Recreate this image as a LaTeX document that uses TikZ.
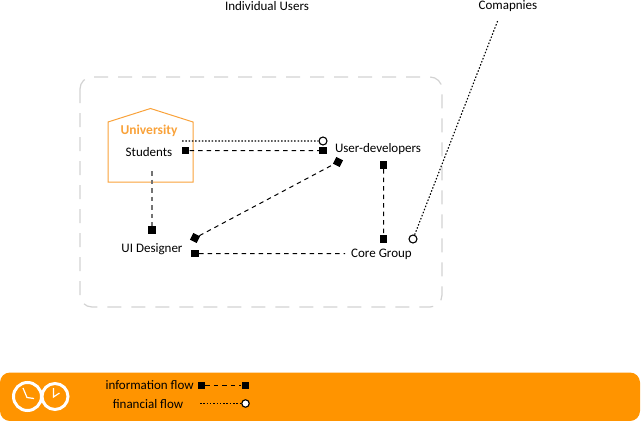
\documentclass[tikz,border=0pt]{standalone}
\usepackage{fontspec}
\setmainfont{Carlito}
\usepackage{tikz}
\usetikzlibrary{arrows.meta, positioning}

\definecolor{legendorange}{HTML}{FF9400}
\definecolor{unicolor}{HTML}{F9A23A}

\begin{document}
\begin{tikzpicture}[x=1pt, y=-1pt, semithick]
\tikzstyle{infopt}=[fill=black,draw=none,rectangle,minimum size=7.5pt,inner sep=0pt]
\tikzstyle{finpt}=[fill=white,draw=black,circle,line width=1.1pt,minimum size=8pt,inner sep=0pt]
\tikzstyle{infoline}=[dash pattern=on 4.5pt off 4pt,line width=1pt]
\tikzstyle{finline}=[dash pattern=on 1.5pt off 1.8pt,line width=1.1pt]
\tikzstyle{label}=[font=\fontsize{13}{15}\selectfont,text=black,inner sep=0pt]
\useasboundingbox (0,0) rectangle (641,421);

% boundary and university
\draw[gray!35,line width=1.2pt,dash pattern=on 14pt off 10pt,rounded corners=12pt]
  (80,77) rectangle (442,307);
\draw[unicolor,line width=1pt] (108,122) -- (150.5,108.5) -- (193,122) -- (193,182) -- (108,182) -- cycle;

% labels
\node[label] (users) at (267,6.5) {Individual Users};
\node[label] (companies) at (508,6.5) {Comapnies};
\node[label,text=unicolor,font=\fontsize{13.5}{15}\selectfont\bfseries] (university) at (149,131) {University};
\node[label] (students) at (149,152) {Students};
\node[label] (designer) at (152,249) {UI Designer};
\node[label] (developers) at (378,149) {User-developers};
\node[label] (core) at (381.5,254.5) {Core Group};

% end points
\node[infopt] (s1) at (185.5,150.5) {};
\node[infopt] (d1) at (323,150.5) {};
\node[finpt] (d2) at (323,141) {};
\node[infopt] (u1) at (152,230) {};
\node[infopt,rotate=-27] (u2) at (195,238) {};
\node[infopt,rotate=-27] (d3) at (338,162) {};
\node[infopt] (u3) at (195,253.5) {};
\node[infopt] (d4) at (383.5,165) {};
\node[infopt] (c1) at (383.5,239) {};
\node[finpt] (c2) at (413,239) {};
\coordinate (s2) at (182,141);
\coordinate (s3) at (152,171);
\coordinate (c3) at (345,253.5);
\coordinate (ext) at (498,20);

\path[draw,infoline]
(s1) -- (d1)
(u2) -- (d3)
(u3) -- (c3)
(d4) -- (c1);
\path[draw,infoline,black!55,line width=1.3pt] (s3) -- (u1);
\path[draw,finline]
(s2) -- (d2)
(c2) -- (ext);

% legend
\fill[legendorange,rounded corners=10pt] (0,372.5) rectangle (640,421);
\draw[white,line width=3pt] (27.5,396.5) circle[radius=14];
\draw[white,line width=3pt] (55,396.5) circle[radius=13];
\draw[white,line width=1.2pt] (23,388) -- (27,397.5) -- (34,398.5);
\draw[white,line width=1.2pt] (53.5,388) -- (53.5,397) -- (59.5,393);
\node[label,anchor=east] (info) at (194,385) {information flow};
\node[label] (fin) at (148,404) {financial flow};
\node[infopt,minimum size=7pt] (l1) at (201.5,385.5) {};
\node[infopt,minimum size=7pt] (l2) at (245,385.5) {};
\node[finpt,minimum size=7.5pt] (l3) at (245.5,403.5) {};
\coordinate (l4) at (200,403.5);
\path[draw,infoline] (l1) -- (l2);
\path[draw,finline,line width=0.8pt] (l4) -- (l3);
\end{tikzpicture}
\end{document}
